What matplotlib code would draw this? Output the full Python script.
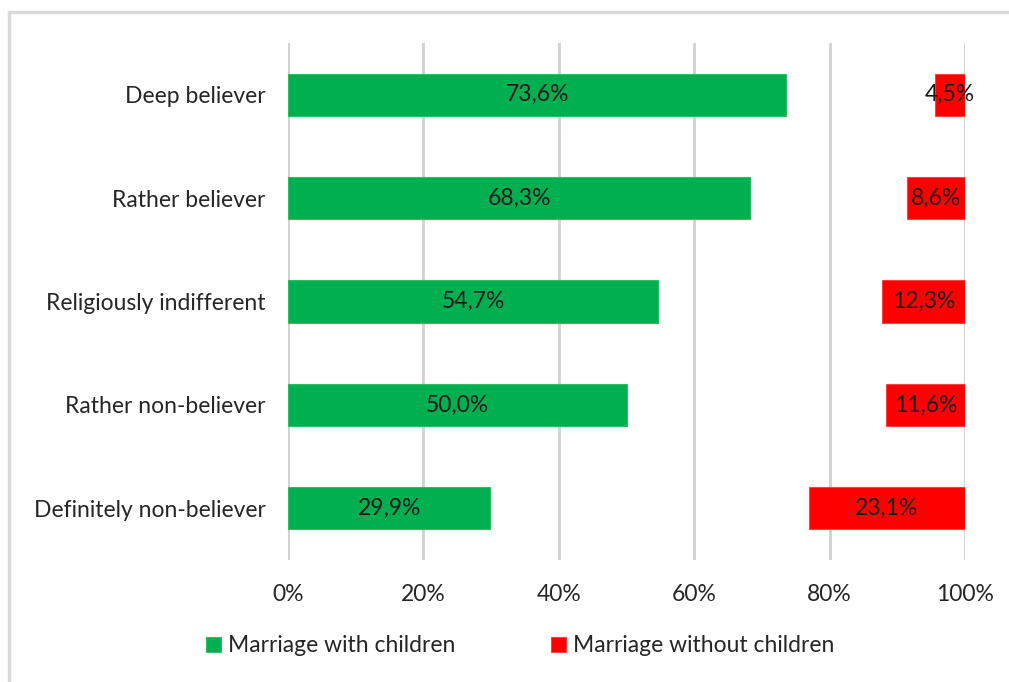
import matplotlib.pyplot as plt
from matplotlib.patches import Rectangle

categories = ["Deep believer", "Rather believer", "Religiously indifferent",
              "Rather non-believer", "Definitely non-believer"]
with_children = [73.6, 68.3, 54.7, 50.0, 29.9]
without_children = [4.5, 8.6, 12.3, 11.6, 23.1]
series_names = ["Marriage with children", "Marriage without children"]
tick_values = [0, 20, 40, 60, 80, 100]

GREEN = "#00B050"
RED = "#FF0000"
FS = 16.5

plt.rcParams["font.family"] = ["Lato", "DejaVu Sans"]

fig = plt.figure(figsize=(10.09, 6.82), dpi=100)
ax = fig.add_axes([288 / 1009, 1 - 560 / 682, 677 / 1009, 517 / 682])

# chart frame (top and left edges visible)
fig.patches.append(Rectangle((9 / 1009, -0.1), 1.2, 1 - 12 / 682 + 0.1,
                             transform=fig.transFigure, fill=False,
                             edgecolor="#d9d9d9", linewidth=2.5))

y = list(range(len(categories)))
h = 0.41
ax.barh(y, with_children, height=h, color=GREEN, edgecolor="#2ebd62",
        linewidth=0.8, label=series_names[0], zorder=3)
left_red = [100 - v for v in without_children]
ax.barh(y, without_children, left=left_red, height=h, color=RED,
        edgecolor="#ff4040", linewidth=0.8, label=series_names[1], zorder=3)

def fmt(v):
    return f"{v:.1f}%".replace(".", ",")

for yi, v in zip(y, with_children):
    ax.text(v / 2, yi, fmt(v), ha="center", va="center", fontsize=FS,
            color="#1a1a1a", zorder=4)
for yi, l, v in zip(y, left_red, without_children):
    ax.text(l + v / 2, yi, fmt(v), ha="center", va="center", fontsize=FS,
            color="#1a1a1a", zorder=4)

ax.set_xlim(0, 100)
ax.set_ylim(len(categories) - 0.5, -0.5)
ax.set_yticks(y)
ax.set_yticklabels(categories, fontsize=FS, color="#262626")
ax.set_xticks(tick_values)
ax.set_xticklabels([f"{t}%" for t in tick_values], fontsize=FS, color="#262626")
ax.tick_params(length=0)
ax.tick_params(axis="y", pad=16)
ax.tick_params(axis="x", pad=17)
ax.grid(axis="x", color="#d0d0d0", linewidth=2, zorder=0)
for s in ax.spines.values():
    s.set_visible(False)

fig.legend(loc="center", bbox_to_anchor=(520 / 1009, 1 - 646 / 682), ncol=2,
           frameon=False, fontsize=FS, handlelength=0.65, handleheight=0.65,
           handletextpad=0.3, columnspacing=4.2, labelcolor="#262626")

fig.savefig("out.png", dpi=100)
